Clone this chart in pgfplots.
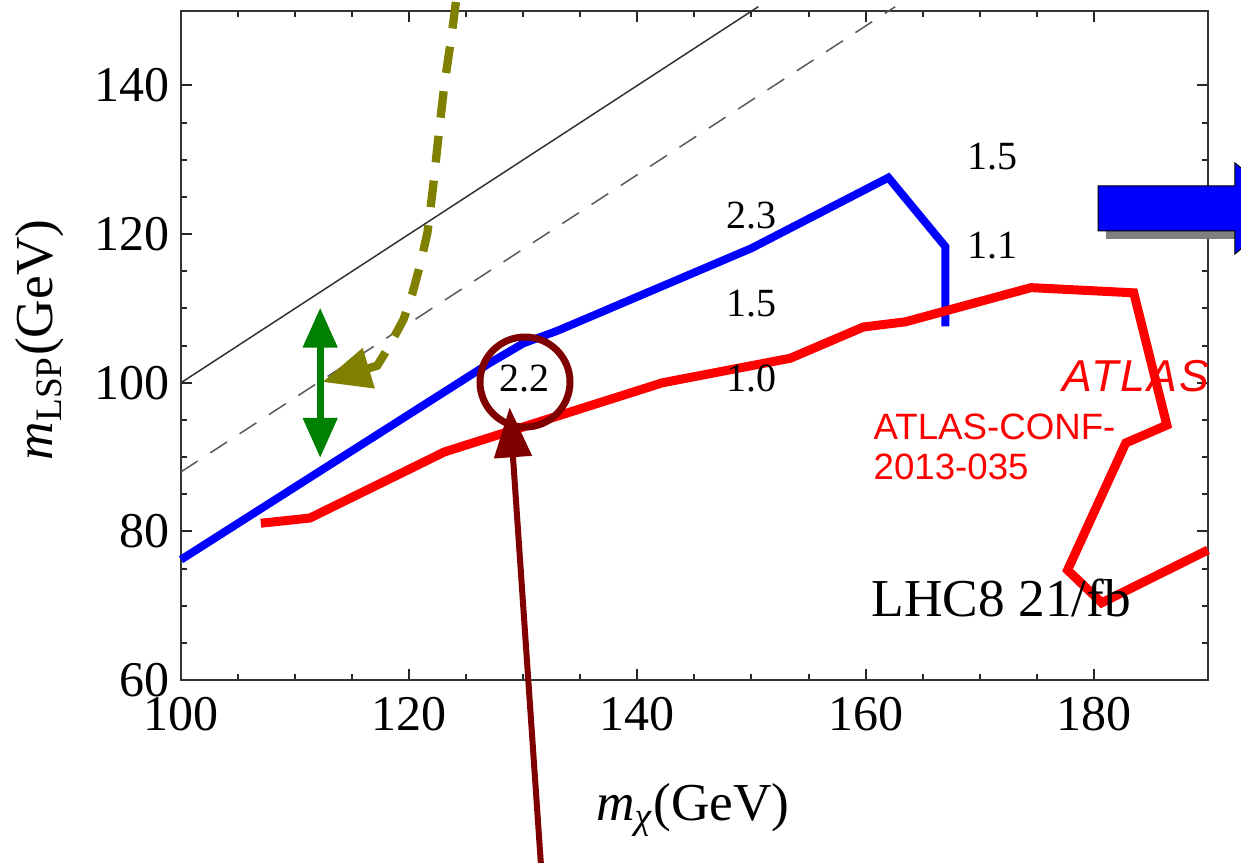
\documentclass[border=0pt]{standalone}
\usepackage{fontspec}
\setmainfont{Liberation Serif}
\newfontfamily\arialf{Liberation Sans}
\newfontfamily\atlasf[LetterSpace=5]{Liberation Sans}
\usepackage{pgfplots}
\pgfplotsset{compat=1.18}
\usetikzlibrary{arrows.meta}
\newlength\px
\setlength\px{0.3pt}
\definecolor{cblue}{RGB}{0,0,255}
\definecolor{cred}{RGB}{255,0,0}
\definecolor{colive}{RGB}{128,128,0}
\definecolor{cgreen}{RGB}{0,128,0}
\definecolor{cmaroon}{RGB}{128,0,0}
\definecolor{cshadow}{RGB}{128,128,128}
\tikzset{
  olivetip/.style={arrows={Triangle[length=14.5pt,width=12pt]-}},
  greentip/.style={arrows={Triangle[length=12pt,width=10pt]-Triangle[length=12pt,width=10pt]}},
  maroontip/.style={arrows={-Triangle[length=15pt,width=11pt]}},
}
\begin{document}
\begin{tikzpicture}
\begin{axis}[
  scale only axis, width=1027\px, height=669\px,
  xmin=100, xmax=190, ymin=60, ymax=150,
  xtick={100,120,140,160,180}, ytick={60,80,100,120,140},
  minor x tick num=3, minor y tick num=3,
  tick align=inside, tick pos=both,
  major tick length=11\px, minor tick length=6\px,
  axis line style={black!80, line width=0.6pt},
  every tick/.append style={black!85, line width=0.6pt},
  /pgf/number format/assume math mode=true,
  ticklabel style={font=\fontsize{15}{15}\selectfont},
  xticklabel style={yshift=-1.5pt},
  clip=false,
]
% kinematic lines
\addplot[black!80, line width=0.45pt] coordinates {(100,100) (150.6,150.6)};
\addplot[black!65, line width=0.45pt, dash pattern=on 6pt off 4.5pt] coordinates {(100,88) (162.6,150.6)};
% olive dashed curve with arrow
\addplot[colive, line width=2.5pt, dash pattern=on 8pt off 5.5pt, olivetip] coordinates {(112.4,100.1)(117.2,102.3)(118.2,104.8)(119.5,108.5)(120.3,112.1)(121.0,116.1)(121.6,120.2)(122.1,126.4)(122.6,133.6)(123.1,140.3)(123.7,146.5)(124.1,151.3)};
% green double arrow
\addplot[cgreen, line width=2.1pt, greentip] coordinates {(112.2,89.9)(112.2,110.1)};
% blue contour
\addplot[cblue, line width=2.4pt] coordinates {(100,76.2)(127,102.6)(130,105.3)(133,107.0)(150,118.1)(162,127.6)(167,118.3)(167,107.6)};
% red ATLAS contour
\addplot[cred, line width=2.7pt] coordinates {(107.0,81.1)(111.3,81.8)(123.1,90.7)(142.2,100.0)(153.4,103.3)(159.8,107.5)(163.5,108.2)(174.5,112.8)(183.5,112.1)(186.4,94.3)(182.8,91.9)(177.7,74.8)(180.7,70.4)(190,77.5)};
% maroon arrow and circle
\addplot[cmaroon, line width=1.8pt, maroontip] coordinates {(131.6,34)(128.8,96.7)};
\draw[cmaroon, line width=2.1pt] (axis cs:130.15,100.1) circle[radius=13.5pt];
% numbers
\node[font=\fontsize{12}{12}\selectfont] at (axis cs:130.1,100.6) {2.2};
\node[font=\fontsize{12}{12}\selectfont] at (axis cs:150.0,122.45) {2.3};
\node[font=\fontsize{12}{12}\selectfont] at (axis cs:171.1,130.4) {1.5};
\node[font=\fontsize{12}{12}\selectfont] at (axis cs:171.1,118.4) {1.1};
\node[font=\fontsize{12}{12}\selectfont] at (axis cs:150.0,110.7) {1.5};
\node[font=\fontsize{12}{12}\selectfont] at (axis cs:150.0,100.6) {1.0};
\node[font=\fontsize{16}{16}\selectfont] at (axis cs:171.9,71.0) {LHC8 21/fb};
% ATLAS texts
\node[anchor=base west, inner sep=0pt, text=cred, font=\atlasf\itshape\fontsize{13.4}{14}\selectfont] at (axis cs:177.2,98.76) {ATLAS};
\node[anchor=base west, inner sep=0pt, text=cred, font=\arialf\fontsize{11}{12}\selectfont] at (axis cs:160.65,92.3) {ATLAS-CONF-};
\node[anchor=base west, inner sep=0pt, text=cred, font=\arialf\fontsize{11}{12}\selectfont] at (axis cs:160.65,86.92) {2013-035};
% blue block arrow with shadow
\fill[cshadow] (axis cs:181.07,125.41) -- (axis cs:193.07,125.41) -- (axis cs:193.07,128.5) -- (axis cs:197.9,122.38) -- (axis cs:193.07,116.25) -- (axis cs:193.07,119.35) -- (axis cs:181.07,119.35) -- cycle;
\filldraw[fill=cblue, draw=black, line width=0.3pt] (axis cs:180.37,126.49) -- (axis cs:192.37,126.49) -- (axis cs:192.37,129.58) -- (axis cs:197.2,123.46) -- (axis cs:192.37,117.33) -- (axis cs:192.37,120.43) -- (axis cs:180.37,120.43) -- cycle;
% axis labels
\node[rotate=90, anchor=base, inner sep=0pt, font=\fontsize{16}{16}\selectfont] at (axis cs:88.78,105.76) {\textit{m}\textsubscript{LSP}(GeV)};
\node[anchor=base, inner sep=0pt, font=\fontsize{16}{16}\selectfont] at (axis cs:144.87,41.16) {\textit{m}\textsubscript{\textit{χ}}(GeV)};
% bounding box corners
\coordinate (bbl) at (axis cs:84.14,35.5);
\coordinate (btr) at (axis cs:192.9,151.5);
\end{axis}
\pgfresetboundingbox
\useasboundingbox (bbl) rectangle (btr);
\end{tikzpicture}
\end{document}
